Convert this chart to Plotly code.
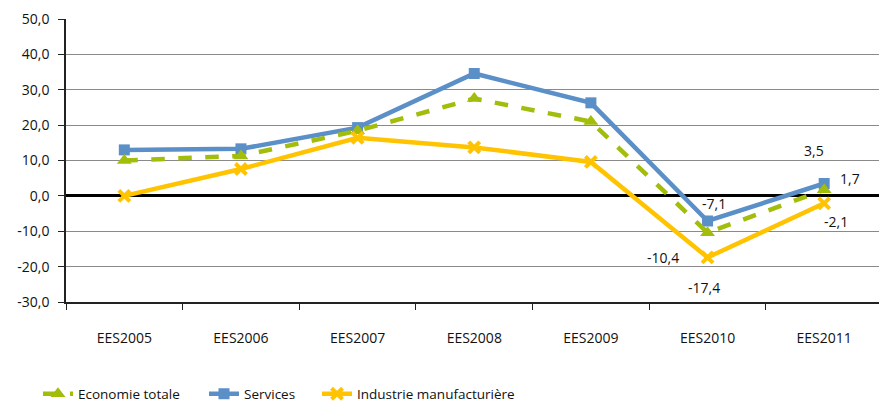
import plotly.graph_objects as go

# Survey editions on the horizontal axis
categories = ["EES2005", "EES2006", "EES2007", "EES2008", "EES2009", "EES2010", "EES2011"]

# Balance of opinions per sector
economie_totale = [10.0, 11.3, 18.4, 27.5, 21.0, -10.4, 1.7]
services = [13.0, 13.3, 19.3, 34.6, 26.3, -7.1, 3.5]
industrie = [0.0, 7.6, 16.4, 13.7, 9.6, -17.4, -2.1]

y_ticks = [-30, -20, -10, 0, 10, 20, 30, 40, 50]
y_tick_labels = ["-30,0", "-20,0", "-10,0", "0,0", "10,0", "20,0", "30,0", "40,0", "50,0"]

GREEN = "#A2BD0A"
BLUE = "#5B8FC7"
YELLOW = "#FFC300"
FONT = "Open Sans"
TEXT = "#111111"

fig = go.Figure()

fig.add_trace(go.Scatter(
    x=categories, y=services, name="Services", mode="lines+markers",
    line=dict(color=BLUE, width=4.5),
    marker=dict(symbol="square", size=11, color=BLUE),
    legend="legend2",
))
fig.add_trace(go.Scatter(
    x=categories, y=economie_totale, name="Economie totale", mode="lines+markers",
    line=dict(color=GREEN, width=4.5, dash="dash"),
    marker=dict(symbol="triangle-up", size=13, color=GREEN),
    legend="legend",
))
fig.add_trace(go.Scatter(
    x=categories, y=industrie, name="Industrie manufacturière", mode="lines+markers",
    line=dict(color=YELLOW, width=4.5),
    marker=dict(symbol="x-thin", size=11, color=YELLOW, line=dict(color=YELLOW, width=4)),
    legend="legend3",
))

# Value labels for the last two editions
def fmt(v):
    return f"{v:.1f}".replace(".", ",")

labels = [
    (categories[5], services[5], 6, 17),
    (categories[5], economie_totale[5], -45, -25),
    (categories[5], industrie[5], -4, -30),
    (categories[6], services[6], -10, 33),
    (categories[6], economie_totale[6], 26, 11),
    (categories[6], industrie[6], 12, -18),
]
for cat, val, dx, dy in labels:
    fig.add_annotation(
        x=cat, y=val, text=fmt(val), showarrow=False,
        xshift=dx, yshift=dy,
        font=dict(family=FONT, size=14, color=TEXT),
    )

legend_style = dict(
    orientation="h", yanchor="middle", xanchor="left", y=-0.325,
    font=dict(family=FONT, size=13.5, color=TEXT),
    bgcolor="rgba(0,0,0,0)", itemwidth=30,
)

fig.update_layout(
    width=879, height=403,
    margin=dict(l=66, r=0, t=19, b=101, autoexpand=False),
    plot_bgcolor="white", paper_bgcolor="white",
    font=dict(family=FONT, size=14, color=TEXT),
    legend=dict(x=(38 - 66) / 813, **legend_style),
    legend2=dict(x=(204 - 66) / 813, **legend_style),
    legend3=dict(x=(317 - 66) / 813, **legend_style),
    showlegend=True,
)

fig.update_xaxes(
    type="category", range=[-0.5, 6.47],
    showline=True, linecolor="#222", linewidth=1.5,
    ticks="outside", tickson="boundaries", ticklen=6, tickcolor="#222",
    showgrid=False, ticklabelstandoff=22,
    tickfont=dict(family=FONT, size=14, color=TEXT),
)
fig.update_yaxes(
    range=[-30, 50], tickvals=y_ticks, ticktext=y_tick_labels,
    showline=True, linecolor="#222", linewidth=1.5,
    ticks="outside", ticklen=6, tickcolor="#222",
    showgrid=True, gridcolor="#8a8a8a", gridwidth=1,
    zeroline=True, zerolinecolor="#000", zerolinewidth=2.5,
    ticklabelstandoff=6,
    tickfont=dict(family=FONT, size=14, color=TEXT),
)

fig.write_html("out.html")
